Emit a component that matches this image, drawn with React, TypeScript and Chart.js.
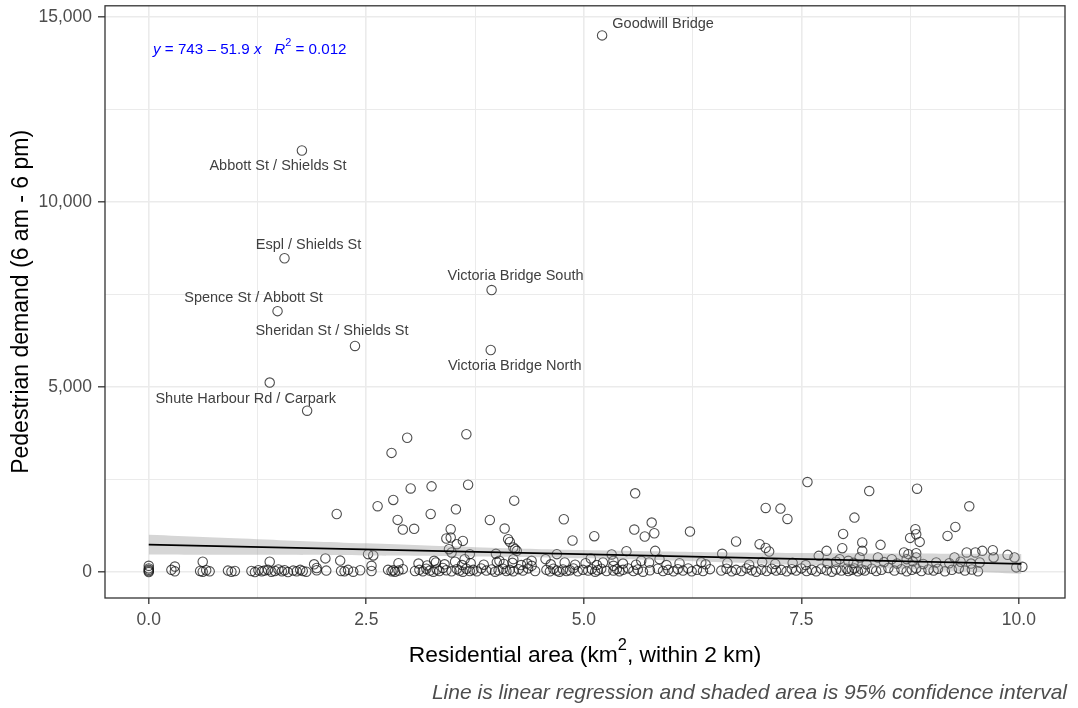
import React, { useEffect, useRef } from "react";
import { Chart, registerables } from "chart.js";

Chart.register(...registerables);

// ---------- data ----------
const labeledNames = [
  "Goodwill Bridge",
  "Abbott St / Shields St",
  "Espl / Shields St",
  "Spence St / Abbott St",
  "Victoria Bridge South",
  "Sheridan St / Shields St",
  "Victoria Bridge North",
  "Shute Harbour Rd / Carpark",
];
const labeledX = [5.21, 1.76, 1.56, 1.48, 3.94, 2.37, 3.93, 1.39];
const labeledY = [14500, 11390, 8480, 7050, 7620, 6110, 6000, 5120];

const midPoints: [number, number][] = [
  [1.82, 4360], [2.97, 3630], [2.79, 3220], [3.01, 2260], [2.81, 1950], [2.63, 1780], [2.16, 1570], [2.86, 1410], [2.92, 1150], [3.05, 1170],
  [2.03, 370], [2.2, 310], [2.52, 485], [2.58, 450], [0.62, 280], [1.39, 280], [1.9, 210], [1.93, 110], [0.3, 150], [2.87, 240], [2.56, 170], [0.0, 170],
  [3.65, 3725], [3.25, 2316], [3.67, 2361], [3.24, 1571], [3.53, 1697], [4.2, 1930], [3.92, 1409], [4.77, 1427], [5.59, 2128], [3.47, 1158],
  [3.42, 907], [3.47, 934], [3.61, 843], [3.54, 754], [4.09, 1177], [4.13, 889], [4.15, 816], [4.19, 665], [4.23, 574], [4.87, 853],
  [5.12, 970], [5.58, 1150], [5.78, 1338], [5.7, 961], [5.81, 1050], [6.22, 1096], [6.75, 827], [5.32, 476], [5.49, 566], [5.82, 574],
  [6.59, 494], [3.99, 494], [3.45, 619], [3.28, 305], [5.08, 368], [4.56, 350], [4.4, 305],
  [7.57, 2433], [8.28, 2190], [8.83, 2253], [7.09, 1733], [7.26, 1715], [7.34, 1436], [8.11, 1472], [9.43, 1778], [7.98, 1032], [9.27, 1221],
  [9.18, 978], [8.81, 1158], [8.82, 1023], [8.75, 924], [8.86, 816], [7.97, 646], [8.2, 800], [8.41, 736], [7.02, 754], [7.09, 654],
  [7.13, 557], [7.79, 574], [8.2, 574], [9.4, 530], [9.5, 530], [9.58, 574], [9.7, 592], [9.87, 466], [9.95, 396], [10.04, 143],
  [9.97, 127], [7.7, 439], [8.68, 530], [8.73, 485], [8.82, 512], [9.71, 396],
  [3.48, 530], [3.63, 350], [3.69, 485], [4.03, 305], [4.21, 619], [4.19, 350], [4.4, 170], [4.69, 485], [5.34, 305], [5.34, 170],
  [5.87, 350], [6.35, 261], [5.66, 305], [7.94, 350], [8.04, 305], [8.82, 396], [8.71, 350], [8.17, 396], [8.38, 396], [8.54, 350], [9.26, 396],
];

const lowBandWest: [number, number][] = [
  [0, 0], [0, 30], [0, 60], [0, 100], [0.26, 60], [0.3, 20], [0.59, 30], [0.62, 10], [0.66, 50], [0.7, 20],
  [0.91, 40], [0.95, 10], [0.99, 30], [1.18, 30], [1.22, 0], [1.26, 50], [1.3, 20], [1.33, 40], [1.37, 60], [1.41, 10],
  [1.45, 30], [1.49, 70], [1.53, 20], [1.56, 50], [1.6, 0], [1.66, 40], [1.7, 20], [1.74, 60], [1.77, 30], [1.81, 10],
  [1.93, 50], [2.04, 40], [2.21, 30], [2.25, 20], [2.29, 60], [2.35, 10], [2.43, 50], [2.56, 30], [2.75, 60], [2.79, 20],
  [2.81, 50], [2.83, 10], [2.87, 40], [2.92, 80], [3.06, 30],
];

const lowBandCentre: [number, number][] = [
  [3.11, 60], [3.15, 20], [3.19, 90], [3.23, 40], [3.27, 10], [3.31, 70], [3.34, 30], [3.38, 110], [3.42, 50], [3.48, 20],
  [3.54, 80], [3.57, 40], [3.61, 10], [3.65, 90], [3.69, 30], [3.73, 60], [3.77, 20], [3.82, 100], [3.88, 40], [3.94, 70],
  [3.98, 10], [4.02, 50], [4.07, 90], [4.11, 30], [4.15, 60], [4.19, 20], [4.25, 80], [4.3, 40], [4.36, 100], [4.44, 30],
  [4.57, 60], [4.61, 20], [4.65, 90], [4.69, 40], [4.72, 10], [4.76, 70], [4.8, 30], [4.84, 50], [4.88, 100], [4.93, 20],
  [4.99, 60], [5.05, 40], [5.09, 80], [5.13, 10], [5.16, 50], [5.2, 90], [5.26, 30],
  [3.1, 230], [3.2, 180], [3.3, 260], [3.4, 210], [3.52, 280], [3.6, 190], [3.7, 240], [3.85, 200], [4.0, 270], [4.08, 220],
  [4.18, 250], [4.28, 190], [4.35, 230], [4.62, 210], [4.78, 260], [4.9, 200], [5.02, 240], [5.15, 190], [5.22, 260],
];

const lowBandEast: [number, number][] = [
  [5.34, 40], [5.38, 80], [5.41, 20], [5.45, 60], [5.51, 100], [5.57, 30], [5.62, 70], [5.68, 10], [5.76, 50], [5.85, 90],
  [5.91, 30], [5.97, 60], [6.03, 20], [6.08, 80], [6.14, 40], [6.2, 100], [6.24, 20], [6.3, 60], [6.37, 30], [6.45, 80],
  [6.58, 40], [6.64, 90], [6.7, 20], [6.75, 60], [6.81, 30], [6.87, 100], [6.93, 50], [6.98, 10], [7.04, 70], [7.1, 30],
  [7.16, 90], [7.21, 40], [7.27, 60], [7.33, 20], [7.39, 80], [7.44, 40], [7.5, 100], [7.56, 30], [7.62, 60], [7.67, 20],
  [7.73, 90], [7.79, 50], [7.85, 10], [7.9, 70], [7.96, 40], [8.02, 90],
  [8.04, 30], [8.08, 60], [8.11, 100], [8.15, 20], [8.19, 70], [8.23, 40], [8.31, 90], [8.36, 30], [8.42, 60], [8.5, 110],
  [8.57, 40], [8.65, 80], [8.71, 20], [8.77, 60], [8.82, 100], [8.88, 30], [8.96, 70], [9.02, 40], [9.07, 90], [9.15, 20],
  [9.23, 60], [9.31, 100], [9.38, 40], [9.46, 70], [9.53, 20],
  [5.45, 230], [5.6, 200], [5.75, 260], [5.95, 190], [6.1, 240], [6.4, 210], [6.65, 250], [6.9, 200], [7.05, 270], [7.2, 220],
  [7.4, 250], [7.55, 190], [7.8, 240], [7.9, 280], [8.1, 250], [8.25, 210], [8.45, 270], [8.6, 230], [8.78, 290], [8.9, 220],
  [9.05, 260], [9.2, 240], [9.33, 280], [9.45, 230], [9.55, 260],
];

// linear regression fit and 95% confidence band
const fitX = [0, 10.03];
const fitY = [743, 222.4];
const ciX = [0, 1.25, 2.5, 3.75, 5, 6.25, 7.5, 8.75, 10.03];
const ciLower = [478, 466, 450, 423, 374, 294, 191, 77, -45];
const ciUpper = [1008, 890, 776, 673, 594, 544, 517, 501, 489];

const xTickValues = [0, 1.25, 2.5, 3.75, 5, 6.25, 7.5, 8.75, 10];
const yTickValues = [0, 2500, 5000, 7500, 10000, 12500, 15000];

// label layout (pixel offsets of label centre from its point)
const labelDx = [61, -24, 24, -24, 24, -23, 24, -24];
const labelDy = [-11, 15, -13, -13, -14, -15, 16, 16];

const FONT = "'Liberation Sans', Arial, 'DejaVu Sans', sans-serif";

function drawParts(
  ctx: CanvasRenderingContext2D,
  parts: [string, boolean, boolean][],
  startX: number,
  y: number,
  size: number,
  align: "left" | "center"
) {
  const supSize = size * 0.72;
  const widths = parts.map(([t, italic, sup]) => {
    ctx.font = `${italic ? "italic " : ""}${sup ? supSize : size}px ${FONT}`;
    return ctx.measureText(t).width;
  });
  const total = widths.reduce((a, b) => a + b, 0);
  let x = align === "center" ? startX - total / 2 : startX;
  ctx.textAlign = "left";
  ctx.textBaseline = "middle";
  parts.forEach(([t, italic, sup], i) => {
    ctx.font = `${italic ? "italic " : ""}${sup ? supSize : size}px ${FONT}`;
    ctx.fillText(t, x, sup ? y - size * 0.45 : y);
    x += widths[i];
  });
}

export default function App() {
  const canvasRef = useRef<HTMLCanvasElement | null>(null);

  useEffect(() => {
    const canvas = canvasRef.current;
    if (!canvas) return;

    const points = [
      ...labeledX.map((x, i) => ({ x, y: labeledY[i] })),
      ...midPoints.map(([x, y]) => ({ x, y })),
      ...lowBandWest.map(([x, y]) => ({ x, y })),
      ...lowBandCentre.map(([x, y]) => ({ x, y })),
      ...lowBandEast.map(([x, y]) => ({ x, y })),
    ];

    const textPlugin = {
      id: "textPlugin",
      afterDraw(chart: any) {
        const ctx = chart.ctx as CanvasRenderingContext2D;
        const area = chart.chartArea;
        const xs = chart.scales.x;
        const ys = chart.scales.y;
        ctx.save();

        // panel border
        ctx.strokeStyle = "#333333";
        ctx.lineWidth = 1.3;
        ctx.strokeRect(area.left, area.top, area.right - area.left, area.bottom - area.top);

        // point labels
        ctx.font = `14.5px ${FONT}`;
        ctx.fillStyle = "#404040";
        ctx.textAlign = "center";
        ctx.textBaseline = "middle";
        labeledNames.forEach((name, i) => {
          const px = xs.getPixelForValue(labeledX[i]);
          const py = ys.getPixelForValue(labeledY[i]);
          ctx.fillText(name, px + labelDx[i], py + labelDy[i]);
        });

        // regression equation
        ctx.fillStyle = "#0000ff";
        drawParts(
          ctx,
          [
            ["y", true, false],
            [" = 743 \u2013 51.9 ", false, false],
            ["x", true, false],
            ["   ", false, false],
            ["R", true, false],
            ["2", false, true],
            [" = 0.012", false, false],
          ],
          area.left + 48,
          area.top + 44,
          15.2,
          "left"
        );

        // axis titles
        ctx.fillStyle = "#000000";
        drawParts(
          ctx,
          [
            ["Residential area (km", false, false],
            ["2", false, true],
            [", within 2 km)", false, false],
          ],
          (area.left + area.right) / 2,
          656,
          22.8,
          "center"
        );

        ctx.save();
        ctx.font = `23px ${FONT}`;
        ctx.textAlign = "center";
        ctx.textBaseline = "middle";
        ctx.translate(22, (area.top + area.bottom) / 2);
        ctx.rotate(-Math.PI / 2);
        ctx.fillText("Pedestrian demand (6 am - 6 pm)", 0, 0);
        ctx.restore();

        // caption
        ctx.font = `italic 21px ${FONT}`;
        ctx.fillStyle = "#4d4d4d";
        ctx.textAlign = "right";
        ctx.textBaseline = "middle";
        ctx.fillText("Line is linear regression and shaded area is 95% confidence interval", 1067, 693);

        ctx.restore();
      },
    };

    const chart = new Chart(canvas, {
      type: "scatter",
      data: {
        datasets: [
          {
            type: "line",
            label: "upper",
            data: ciX.map((x, i) => ({ x, y: ciUpper[i] })),
            borderWidth: 0,
            pointRadius: 0,
            backgroundColor: "rgba(153,153,153,0.4)",
            fill: "+1",
            tension: 0.4,
            order: 2,
          } as any,
          {
            type: "line",
            label: "lower",
            data: ciX.map((x, i) => ({ x, y: ciLower[i] })),
            borderWidth: 0,
            pointRadius: 0,
            fill: false,
            tension: 0.4,
            order: 2,
          } as any,
          {
            type: "line",
            label: "fit",
            data: fitX.map((x, i) => ({ x, y: fitY[i] })),
            borderColor: "#000000",
            borderWidth: 1.7,
            pointRadius: 0,
            fill: false,
            order: 1,
          } as any,
          {
            label: "sites",
            data: points,
            pointRadius: 4.7,
            pointBorderWidth: 1.1,
            borderColor: "rgba(20,20,20,0.75)",
            backgroundColor: "rgba(0,0,0,0)",
            pointBackgroundColor: "rgba(0,0,0,0)",
            pointBorderColor: "rgba(20,20,20,0.75)",
            order: 3,
          } as any,
        ],
      },
      options: {
        responsive: false,
        animation: false,
        events: [],
        layout: { padding: { top: 5, right: 13, left: 0, bottom: 0 } },
        plugins: {
          legend: { display: false },
          tooltip: { enabled: false },
          title: { display: false },
        },
        scales: {
          x: {
            type: "linear",
            min: -0.503,
            max: 10.53,
            afterBuildTicks: (scale: any) => {
              scale.ticks = xTickValues.map((v) => ({ value: v }));
            },
            afterFit: (scale: any) => {
              scale.height = 110;
              scale.paddingLeft = 0;
              scale.paddingRight = 0;
            },
            ticks: {
              autoSkip: false,
              maxRotation: 0,
              padding: 6,
              color: "#4d4d4d",
              font: { family: FONT, size: 17.5 },
              callback: (v: any) => (Math.abs((v as number) % 2.5) < 1e-9 ? (v as number).toFixed(1) : ""),
            },
            grid: {
              color: "#ebebeb",
              lineWidth: (c: any) => (c.tick && Math.abs(c.tick.value % 2.5) < 1e-9 ? 1.6 : 1),
              tickLength: 6,
              tickColor: (c: any) => (c.tick && Math.abs(c.tick.value % 2.5) < 1e-9 ? "#333333" : "rgba(0,0,0,0)"),
              tickWidth: 1.3,
            },
            border: { display: false },
          },
          y: {
            type: "linear",
            min: -700,
            max: 15300,
            afterBuildTicks: (scale: any) => {
              scale.ticks = yTickValues.map((v) => ({ value: v }));
            },
            afterFit: (scale: any) => {
              scale.width = 105;
              scale.paddingTop = 0;
              scale.paddingBottom = 0;
            },
            ticks: {
              autoSkip: false,
              padding: 6,
              color: "#4d4d4d",
              font: { family: FONT, size: 17.5 },
              callback: (v: any) => ((v as number) % 5000 === 0 ? (v as number).toLocaleString("en-US") : ""),
            },
            grid: {
              color: "#ebebeb",
              lineWidth: (c: any) => (c.tick && c.tick.value % 5000 === 0 ? 1.6 : 1),
              tickLength: 7,
              tickColor: (c: any) => (c.tick && c.tick.value % 5000 === 0 ? "#333333" : "rgba(0,0,0,0)"),
              tickWidth: 1.3,
            },
            border: { display: false },
          },
        },
      },
      plugins: [textPlugin],
    });

    return () => {
      chart.destroy();
    };
  }, []);

  return (
    <div style={{ position: "absolute", left: 0, top: 0, width: 1078, height: 708, background: "#ffffff" }}>
      <canvas ref={canvasRef} width={1078} height={708} style={{ display: "block" }} />
    </div>
  );
}
